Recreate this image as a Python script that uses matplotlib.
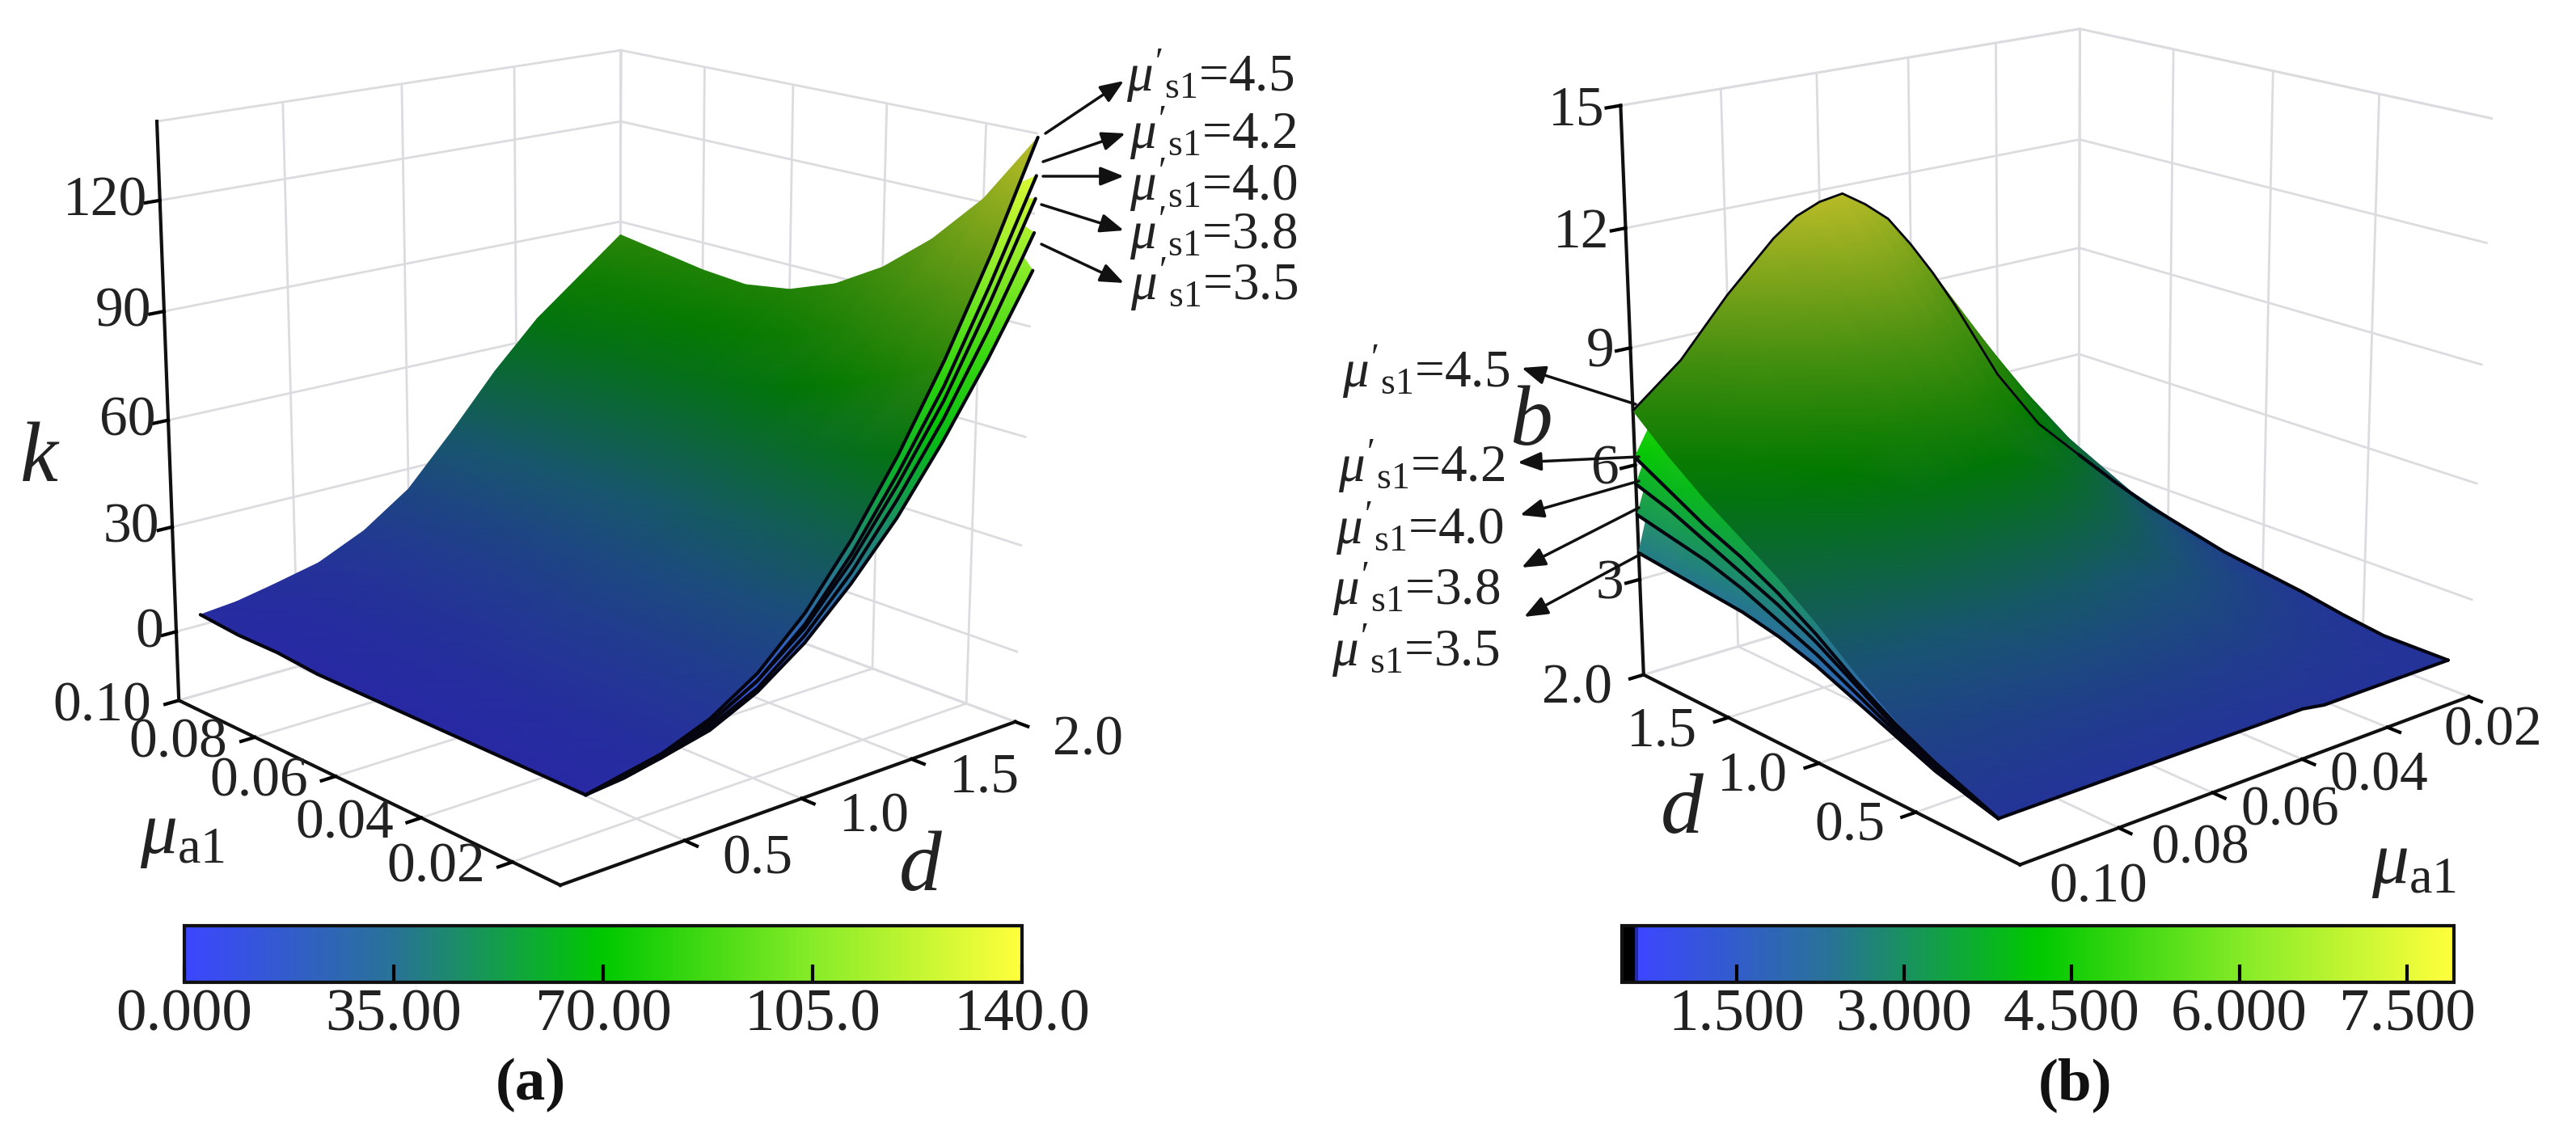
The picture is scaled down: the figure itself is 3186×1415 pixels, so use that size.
import numpy as np
import matplotlib
matplotlib.use('Agg')
import matplotlib.pyplot as plt
import matplotlib.tri as mtri
from matplotlib.colors import LinearSegmentedColormap, Normalize
from matplotlib.cm import ScalarMappable
from mpl_toolkits.mplot3d import proj3d

plt.rcParams['font.family'] = ['Liberation Serif', 'DejaVu Serif']
plt.rcParams['mathtext.fontset'] = 'custom'
plt.rcParams['mathtext.rm'] = 'Liberation Serif'
plt.rcParams['mathtext.it'] = 'Liberation Serif:italic'
plt.rcParams['mathtext.bf'] = 'Liberation Serif:bold'

W, H = 3186, 1415

# panel (a) k values: rows are mu_a1, columns are d
mu_a = [0.01, 0.02, 0.03, 0.04, 0.05, 0.06, 0.07, 0.08, 0.09, 0.10]
d_a = [0.1, 0.25, 0.4, 0.6, 0.8, 1.0, 1.2, 1.4, 1.6, 1.8, 2.0]
k_45 = [
    [1, 3, 5, 10, 18, 30, 46, 65, 87, 112, 140],
    [1, 3, 5, 10, 18, 29, 44, 61, 79, 99, 121],
    [1, 3, 5, 10, 17, 28, 42, 57, 73, 90, 107],
    [1, 3, 5, 10, 17, 27, 40, 54, 68, 82, 96],
    [1, 3, 5, 10, 17, 26, 38, 52, 65, 76, 88],
    [1, 3, 5, 9, 16, 25, 37, 50, 63, 73, 83],
    [1, 3, 5, 9, 15, 24, 37, 50, 62, 72, 81],
    [2, 3, 5, 9, 15, 24, 37, 50, 62, 73, 82],
    [2, 3, 5, 8, 14, 24, 37, 51, 64, 75, 84],
    [3, 4, 6, 9, 15, 24, 38, 53, 66, 76, 86],
]
# lower surfaces of (a), only their mu_a1=0.01 edge shows
k_42 = [1, 3, 5, 9, 16, 27, 42, 60, 80, 104, 130]
k_40 = [1, 3, 5, 9, 16, 26, 40, 57, 76, 99, 124]
k_38 = [1, 3, 4, 8, 14, 24, 37, 53, 71, 92, 115]
k_35 = [1, 2, 4, 7, 13, 22, 34, 48, 65, 84, 105]

# panel (b) b values: rows are mu_a1, columns are d
mu_b = [0.12, 0.11, 0.10, 0.09, 0.085, 0.08, 0.075, 0.07, 0.065, 0.06, 0.055, 0.05, 0.045, 0.04, 0.03, 0.02]
d_b = [0.1, 0.25, 0.4, 0.6, 0.8, 1.0, 1.2, 1.4, 1.6, 1.8, 2.0]
b_45 = [
    [1.3, 1.6, 1.9, 2.5, 3.2, 4.0, 4.7, 5.3, 5.9, 6.6, 7.4],
    [1.3, 1.6, 2.0, 2.6, 3.3, 4.2, 5.0, 5.8, 6.5, 7.4, 8.4],
    [1.3, 1.6, 2.0, 2.7, 3.5, 4.5, 5.4, 6.3, 7.3, 8.5, 9.8],
    [1.3, 1.6, 2.0, 2.8, 3.7, 4.7, 5.8, 7.0, 8.2, 9.6, 11.0],
    [1.3, 1.6, 2.0, 2.8, 3.7, 4.8, 5.9, 7.2, 8.5, 10.0, 11.45],
    [1.3, 1.6, 2.0, 2.8, 3.7, 4.8, 6.0, 7.4, 8.8, 10.3, 11.7],
    [1.3, 1.6, 2.0, 2.8, 3.7, 4.9, 6.1, 7.5, 9.0, 10.4, 11.8],
    [1.3, 1.6, 2.0, 2.7, 3.6, 4.8, 6.0, 7.3, 8.7, 10.1, 11.4],
    [1.3, 1.6, 1.9, 2.7, 3.5, 4.6, 5.8, 7.0, 8.3, 9.6, 10.9],
    [1.3, 1.5, 1.9, 2.6, 3.4, 4.4, 5.4, 6.6, 7.8, 9.0, 10.1],
    [1.3, 1.5, 1.8, 2.5, 3.2, 4.1, 5.0, 6.1, 7.2, 8.2, 9.2],
    [1.2, 1.5, 1.8, 2.4, 3.0, 3.8, 4.6, 5.5, 6.4, 7.3, 8.2],
    [1.2, 1.4, 1.7, 2.2, 2.8, 3.4, 4.1, 4.9, 5.6, 6.4, 7.1],
    [1.2, 1.4, 1.6, 2.0, 2.5, 3.0, 3.6, 4.3, 4.9, 5.5, 6.0],
    [1.2, 1.3, 1.4, 1.7, 2.0, 2.3, 2.7, 3.1, 3.5, 3.9, 4.3],
    [1.2, 1.2, 1.2, 1.35, 1.55, 1.7, 1.85, 2.1, 2.35, 2.7, 3.1],
]
b_42 = [1.3, 1.6, 1.9, 2.4, 3.0, 3.7, 4.3, 4.8, 5.2, 5.7, 6.2]
b_40 = [1.3, 1.6, 1.9, 2.3, 2.9, 3.5, 4.0, 4.4, 4.8, 5.2, 5.5]
b_38 = [1.3, 1.5, 1.8, 2.2, 2.7, 3.2, 3.6, 4.0, 4.3, 4.5, 4.7]
b_35 = [1.3, 1.5, 1.7, 2.1, 2.5, 2.9, 3.2, 3.4, 3.5, 3.6, 3.7]

labels_s1 = ["4.5", "4.2", "4.0", "3.8", "3.5"]

ticks_d = [0.5, 1.0, 1.5, 2.0]
ticks_mu = [0.02, 0.04, 0.06, 0.08, 0.10]
ticks_k = [0, 30, 60, 90, 120]
ticks_b = [3, 6, 9, 12, 15]
cbar_ticks_a = [0, 35, 70, 105, 140]
cbar_labels_a = ['0.000', '35.00', '70.00', '105.0', '140.0']
cbar_ticks_b = [1.5, 3.0, 4.5, 6.0, 7.5]
cbar_labels_b = ['1.500', '3.000', '4.500', '6.000', '7.500']


def rgb(r, g, b):
    return (r / 255, g / 255, b / 255)


bright = [(0, rgb(60, 70, 255)), (0.25, rgb(40, 115, 150)), (0.5, rgb(0, 200, 0)),
          (0.75, rgb(135, 235, 40)), (1, rgb(255, 255, 60))]
bright_b = [(0, (0, 0, 0)), (0.012, (0, 0, 0)), (0.018, rgb(60, 70, 255)), (0.25, rgb(40, 115, 150)),
            (0.5, rgb(0, 200, 0)), (0.75, rgb(135, 235, 40)), (1, rgb(255, 255, 60))]
dark = [(0, rgb(40, 40, 165)), (0.25, rgb(25, 85, 115)), (0.5, rgb(0, 120, 0)),
        (0.75, rgb(90, 150, 20)), (1, rgb(190, 190, 40))]
cmap_bar = LinearSegmentedColormap.from_list('bar', bright)
cmap_bar_b = LinearSegmentedColormap.from_list('bar_b', bright_b)
cmap_surf = LinearSegmentedColormap.from_list('surf', dark)

fig = plt.figure(figsize=(W / 100, H / 100), dpi=100)


def make_box(cx, cy, size, elev, azim, xlim, ylim, zlim, xticks, yticks, zticks):
    ax = fig.add_axes([(cx - size / 2) / W, 1 - (cy + size / 2) / H, size / W, size / H],
                      projection='3d')
    ax.patch.set_alpha(0)
    ax.view_init(elev=elev, azim=azim)
    ax.set_proj_type('persp', focal_length=0.6)
    ax.set_box_aspect((1, 1, 1.0), zoom=1.0)
    ax.set_xlim(*xlim)
    ax.set_ylim(*ylim)
    ax.set_zlim(*zlim)
    ax.set_xticks(xticks)
    ax.set_yticks(yticks)
    ax.set_zticks(zticks)
    ax.set_xticklabels([])
    ax.set_yticklabels([])
    ax.set_zticklabels([])
    for axis in (ax.xaxis, ax.yaxis, ax.zaxis):
        axis.set_pane_color((1, 1, 1, 1))
        axis.pane.set_edgecolor('#dcdce0')
        axis.pane.set_linewidth(2)
        axis.line.set_color('#111111')
        axis.line.set_linewidth(3)
        axis._axinfo['grid'].update(color='#dcdce0', linewidth=2)
        axis._axinfo['tick'].update(inward_factor=0.35, outward_factor=0)
        axis._axinfo['tick']['linewidth'] = {True: 3, False: 1}
    return ax


def project(ax, xs, ys, zs):
    px, py, tz = proj3d.proj_transform(np.ravel(xs), np.ravel(ys), np.ravel(zs), ax.get_proj())
    pts = ax.transData.transform(np.column_stack([px, py]))
    return pts[:, 0], H - pts[:, 1], tz


def draw_mesh(ov, ax, X, Y, Z, cmap, norm):
    # Gouraud triangles in screen space, far ones first
    nr, nc = X.shape
    px, py, tz = project(ax, X, Y, Z)
    tris = []
    for i in range(nr - 1):
        for j in range(nc - 1):
            a = i * nc + j
            tris.append([a, a + 1, a + nc])
            tris.append([a + 1, a + nc + 1, a + nc])
    tris = np.array(tris)
    tris = tris[np.argsort(-tz[tris].mean(axis=1))]
    ov.tripcolor(mtri.Triangulation(px, py, tris), np.ravel(Z), shading='gouraud',
                 cmap=cmap, norm=norm, zorder=2)


def edge_line(ov, ax, xs, ys, zs, lw=3, z=3):
    px, py, _ = project(ax, xs, ys, zs)
    ov.plot(px, py, color='#050510', lw=lw, zorder=z, solid_capstyle='round')


def tick_text(ov, ax, x, y, z, label, dx, dy, ha='center'):
    px, py, _ = project(ax, [x], [y], [z])
    ov.text(px[0] + dx, py[0] + dy, label, fontsize=50, ha=ha, va='center', color='#222222', zorder=6)


def s1_label(ov, x, y, val):
    ov.text(x, y, r"$\mu'_{\mathrm{s1}}$=" + val, fontsize=47, va='baseline', ha='left',
            color='#222222', zorder=6)


def arrow(ov, start, tip):
    ov.annotate('', xy=tip, xytext=start, zorder=6,
                arrowprops=dict(arrowstyle='-|>,head_length=0.8,head_width=0.32', color='#111111',
                                lw=2.5, shrinkA=0, shrinkB=0, mutation_scale=22))


def colorbar(x0, x1, vmin, vmax, cmap, ticks, labels):
    cax = fig.add_axes([x0 / W, 1 - 1215 / H, (x1 - x0) / W, 70 / H])
    cb = fig.colorbar(ScalarMappable(Normalize(vmin, vmax), cmap), cax=cax, orientation='horizontal')
    cb.set_ticks(ticks)
    cb.set_ticklabels(labels)
    cb.outline.set_linewidth(3)
    cb.outline.set_edgecolor('#111111')
    cax.tick_params(direction='in', length=16, width=3, labelsize=54, pad=6, labelcolor='#222222')
    return cb


# panel (a), x is d and y is mu
lim_a = ((0, 2.0), (0.01, 0.10), (-20, 141))
ax_a = make_box(717, 545, 1265, 16.5, -131, *lim_a, ticks_d, ticks_mu, ticks_k)
# panel (b), x is mu (reversed) and y is d
lim_b = ((0.12, 0.02), (0, 2.0), (0.45, 15))
ax_b = make_box(2522, 520, 1250, 17.5, -131, *lim_b, ticks_mu, ticks_d, ticks_b)
fig.canvas.draw()

ov = fig.add_axes([0, 0, 1, 1], zorder=5)
ov.patch.set_alpha(0)
ov.set_axis_off()
ov.set_xlim(0, W)
ov.set_ylim(H, 0)

norm_a = Normalize(0, 140)
D_a, M_a = np.meshgrid(d_a, mu_a)
Z_a = np.array(k_45, dtype=float)

for edge in (k_35, k_38, k_40, k_42):
    XX = np.array([d_a, d_a])
    YY = np.array([[mu_a[0]] * len(d_a), [mu_a[1]] * len(d_a)])
    ZZ = np.array([edge, k_45[1]], dtype=float)
    draw_mesh(ov, ax_a, XX, YY, ZZ, cmap_bar, norm_a)
    edge_line(ov, ax_a, d_a, [mu_a[0]] * len(d_a), edge)
draw_mesh(ov, ax_a, D_a, M_a, Z_a, cmap_surf, norm_a)
edge_line(ov, ax_a, d_a, [mu_a[0]] * len(d_a), Z_a[0])
edge_line(ov, ax_a, [d_a[0]] * len(mu_a), mu_a, Z_a[:, 0])

norm_b = Normalize(0.5, 12)
M_b, D_b = np.meshgrid(mu_b, d_b, indexing='ij')
Z_b = np.array(b_45, dtype=float)

for edge in (b_35, b_38, b_40, b_42):
    XX = np.array([[mu_b[0]] * len(d_b), [mu_b[1]] * len(d_b)])
    YY = np.array([d_b, d_b])
    ZZ = np.array([edge, b_45[1]], dtype=float)
    draw_mesh(ov, ax_b, XX, YY, ZZ, cmap_bar, norm_b)
    edge_line(ov, ax_b, [mu_b[0]] * len(d_b), d_b, edge)
draw_mesh(ov, ax_b, M_b, D_b, Z_b, cmap_surf, norm_b)
edge_line(ov, ax_b, M_b[:, 0], D_b[:, 0], Z_b[:, 0])
edge_line(ov, ax_b, M_b[-1], D_b[-1], Z_b[-1])
edge_line(ov, ax_b, M_b[:, -1], D_b[:, -1], Z_b[:, -1], lw=2)

# tick labels
for v in ticks_d:
    tick_text(ov, ax_a, v, lim_a[1][0], lim_a[2][0], '%.1f' % v, 90, 24)
for v in ticks_mu:
    tick_text(ov, ax_a, lim_a[0][0], v, lim_a[2][0], '%.2f' % v, -95, 8)
for v in ticks_k:
    tick_text(ov, ax_a, lim_a[0][0], lim_a[1][1], v, '%d' % v, -16, 2, ha='right')
for v in ticks_d:
    tick_text(ov, ax_b, lim_b[0][0], v, lim_b[2][0], '%.1f' % v, -82, 18)
for v, dx, dy in zip(ticks_mu, [30, -10, -15, -15, -25], [43, 61, 65, 70, 75]):
    tick_text(ov, ax_b, v, lim_b[1][0], lim_b[2][0], '%.2f' % v, dx, dy)
for v in ticks_b:
    tick_text(ov, ax_b, lim_b[0][0], lim_b[1][1], v, '%d' % v, -20, 7, ha='right')

# axis names
ov.text(48, 570, 'k', fontsize=76, style='italic', ha='center', va='center', color='#222222')
ov.text(1138, 1076, 'd', fontsize=76, style='italic', ha='center', va='center', color='#222222')
ov.text(225, 1035, r'$\mu_{\mathrm{a1}}$', fontsize=66, ha='center', va='center', color='#222222')
ov.text(1893, 525, 'b', fontsize=76, style='italic', ha='center', va='center', color='#222222')
ov.text(2080, 1005, 'd', fontsize=76, style='italic', ha='center', va='center', color='#222222')
ov.text(2985, 1072, r'$\mu_{\mathrm{a1}}$', fontsize=66, ha='center', va='center', color='#222222')
ov.text(656, 1342, '(a)', fontsize=54, fontweight='bold', ha='center', va='center', color='#111111')
ov.text(2566, 1342, '(b)', fontsize=54, fontweight='bold', ha='center', va='center', color='#111111')

# mu's1 labels and arrows
text_a = [(1393, 112), (1397, 183), (1397, 247), (1397, 307), (1398, 370)]
start_a = [(1293, 165), (1290, 200), (1290, 218), (1288, 253), (1288, 302)]
tip_a = [(1390, 100), (1392, 165), (1390, 218), (1390, 285), (1390, 350)]
text_b = [(1660, 478), (1655, 595), (1652, 672), (1648, 747), (1647, 823)]
start_b = [(2023, 500), (2027, 565), (2027, 595), (2027, 628), (2030, 685)]
tip_b = [(1882, 455), (1877, 572), (1880, 637), (1882, 702), (1885, 763)]
for val, t, s, p in zip(labels_s1, text_a, start_a, tip_a):
    s1_label(ov, t[0], t[1], val)
    arrow(ov, s, p)
for val, t, s, p in zip(labels_s1, text_b, start_b, tip_b):
    s1_label(ov, t[0], t[1], val)
    arrow(ov, s, p)

colorbar(228, 1264, 0, 140, cmap_bar, cbar_ticks_a, cbar_labels_a)
colorbar(2006, 3035, 0.476, 7.92, cmap_bar_b, cbar_ticks_b, cbar_labels_b)

fig.savefig('out.png', dpi=100)
